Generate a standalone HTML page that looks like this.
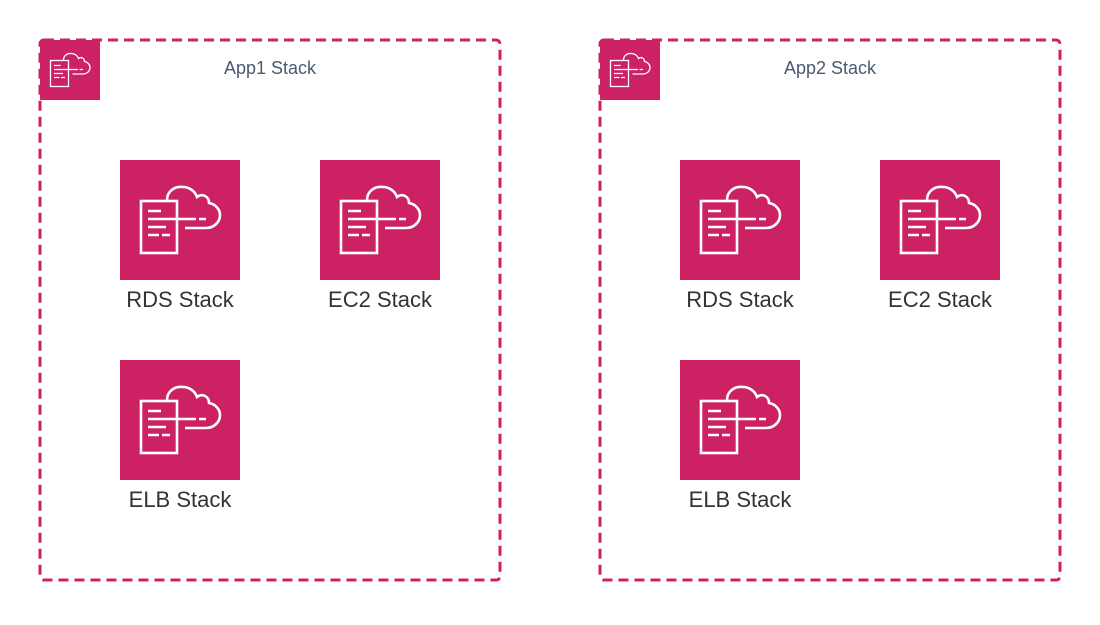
<!DOCTYPE html>
<html><head><style>body{margin:0;background:#fff}</style></head><body>
<svg width="1100" height="620" xmlns="http://www.w3.org/2000/svg" font-family="Liberation Sans, sans-serif">
<defs>
<g id="ic">
<rect width="120" height="120" fill="#cc2264"/>
<g fill="none" stroke="#fff" stroke-width="2.6">
<rect x="21" y="41" width="36" height="52"/>
<path d="M28 51H41M28 59H76M79 59H86M28 67H46M28 75H39M42 75H50"/>
<path d="M47 40C47 31 55 26 63 27C69 27 75 31 77 37C82 33 89 36 89 43C95 44 100 49 100 55C100 62 94 68 86 68H65"/>
</g>
</g>
</defs>
<g>
<rect x="40" y="40" width="460" height="540" rx="4" fill="none" stroke="#cc2264" stroke-width="3" stroke-dasharray="10 6"/>
<use href="#ic" transform="translate(40,40) scale(0.5)"/>
<text x="270" y="74" text-anchor="middle" font-size="18" fill="#4a5a73">App1 Stack</text>
<use href="#ic" x="120" y="160"/><text x="180" y="307" text-anchor="middle" font-size="22" fill="#333">RDS Stack</text>
<use href="#ic" x="320" y="160"/><text x="380" y="307" text-anchor="middle" font-size="22" fill="#333">EC2 Stack</text>
<use href="#ic" x="120" y="360"/><text x="180" y="507" text-anchor="middle" font-size="22" fill="#333">ELB Stack</text>
</g>
<g transform="translate(560,0)">
<rect x="40" y="40" width="460" height="540" rx="4" fill="none" stroke="#cc2264" stroke-width="3" stroke-dasharray="10 6"/>
<use href="#ic" transform="translate(40,40) scale(0.5)"/>
<text x="270" y="74" text-anchor="middle" font-size="18" fill="#4a5a73">App2 Stack</text>
<use href="#ic" x="120" y="160"/><text x="180" y="307" text-anchor="middle" font-size="22" fill="#333">RDS Stack</text>
<use href="#ic" x="320" y="160"/><text x="380" y="307" text-anchor="middle" font-size="22" fill="#333">EC2 Stack</text>
<use href="#ic" x="120" y="360"/><text x="180" y="507" text-anchor="middle" font-size="22" fill="#333">ELB Stack</text>
</g>
</svg>
</body></html>
